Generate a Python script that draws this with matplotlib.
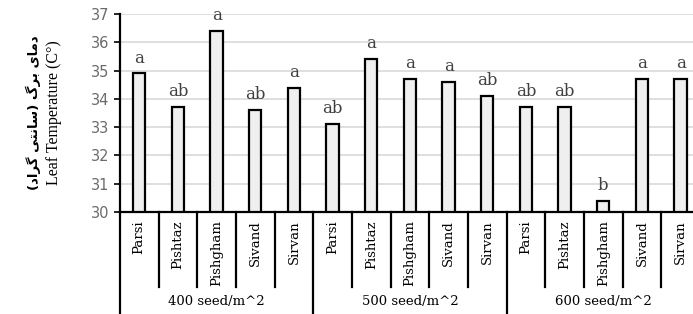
import matplotlib
matplotlib.use('Agg')
import matplotlib.pyplot as plt
import matplotlib.transforms as mtransforms

cultivars = ['Parsi', 'Pishtaz', 'Pishgham', 'Sivand', 'Sirvan']
densities = ['400 seed/m^2', '500 seed/m^2', '600 seed/m^2']
temps = [34.9, 33.7, 36.4, 33.6, 34.4,
         33.1, 35.4, 34.7, 34.6, 34.1,
         33.7, 33.7, 30.4, 34.7, 34.7]
letters = ['a', 'ab', 'a', 'ab', 'a',
           'ab', 'a', 'a', 'a', 'ab',
           'ab', 'ab', 'b', 'a', 'a']

# Persian label written in visual order with presentation forms
fa_label = ('(\uFEA9\uFE8D\uFEAE\uFB94 \uFEF0\uFE98\uFEE7\uFE8E\uFEB3) '
            '\uFB92\uFEAE\uFE91 \uFEEF\uFE8E\uFEE3\uFEA9')

fig = plt.figure(figsize=(6.93, 3.14), dpi=100)
ax = fig.add_axes([0.173, 0.325, 0.827, 0.63])

labels = cultivars * len(densities)
x = list(range(len(temps)))
base = 30
ax.bar(x, [t - base for t in temps], bottom=base, width=0.32,
       color='#efefef', edgecolor='black', linewidth=1.6, zorder=3)
for xi, t, l in zip(x, temps, letters):
    ax.annotate(l, (xi, t), xytext=(0, 5), textcoords='offset points',
                ha='center', va='bottom', fontsize=12, color='#404040',
                family='DejaVu Serif')

ax.set_ylim(30, 37)
ax.set_xlim(-0.5, 14.32)
ax.set_yticks(range(30, 38))
ax.tick_params(axis='y', labelsize=10.5, labelcolor='#6b6b6b', length=4,
               width=1.2, direction='out')
ax.set_xticks(x)
ax.set_xticklabels(labels, rotation=90, family='DejaVu Serif', fontsize=9.5)
ax.tick_params(axis='x', length=0, pad=6)
ax.grid(axis='y', color='#d9d9d9', linewidth=1.2, zorder=0)
for s in ['top', 'right']:
    ax.spines[s].set_visible(False)
ax.spines['left'].set_linewidth(1.6)
ax.spines['bottom'].set_linewidth(1.6)

trans = mtransforms.blended_transform_factory(ax.transData, ax.transAxes)
for i in range(len(temps) + 1):
    xb = i - 0.5
    y0 = -0.51 if i % len(cultivars) == 0 else -0.38
    ax.plot([xb, xb], [0, y0], transform=trans, color='black',
            linewidth=1.6, clip_on=False)
for g, name in enumerate(densities):
    ax.text(g * len(cultivars) + 2, -0.455, name, transform=trans,
            ha='center', va='center', family='DejaVu Serif', fontsize=9.5)

fig.text(0.048, 0.64, fa_label, rotation=90, ha='center', va='center',
         family='DejaVu Sans', fontsize=9.5, fontweight='bold')
fig.text(0.078, 0.64, 'Leaf Temperature (C\u00b0)', rotation=90, ha='center',
         va='center', family='Liberation Serif', fontsize=11.5)

fig.savefig('out.png', dpi=100)
